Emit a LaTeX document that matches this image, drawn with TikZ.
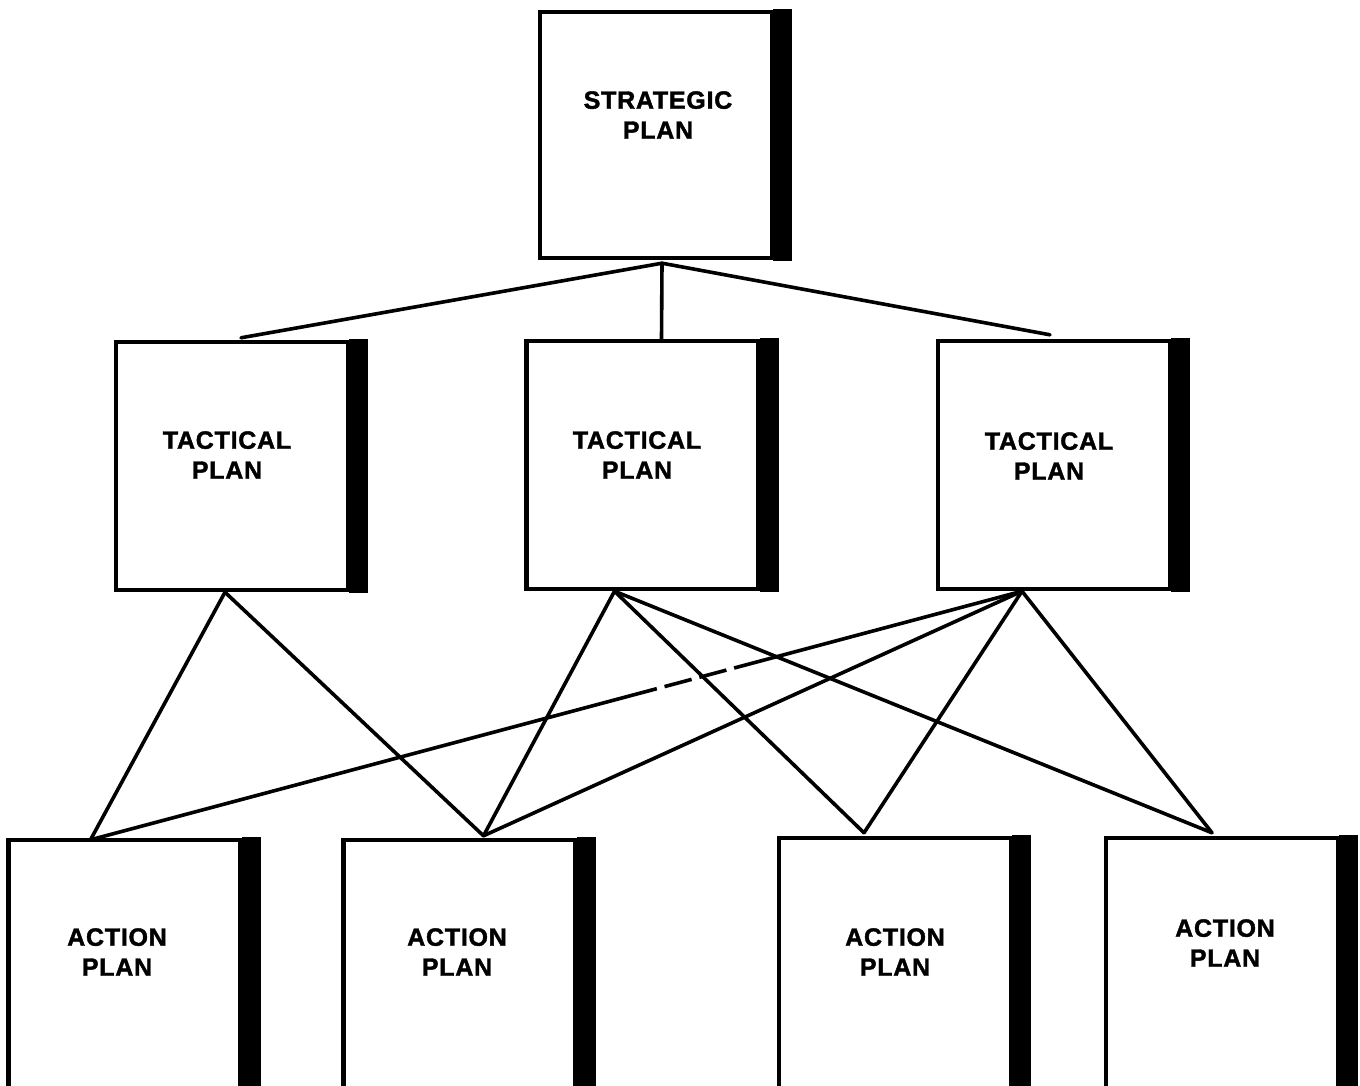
\documentclass[tikz,border=0pt]{standalone}
\usepackage{fontspec}
\newfontfamily\lblfont{Liberation Sans}[LetterSpace=3, BoldFeatures={FakeBold=1.6}]
\usetikzlibrary{calc}
\tikzset{
  planbox/.style={draw=black, line width=2.2pt, fill=white, rectangle, inner sep=0pt,
    minimum width=116pt},
  tallbox/.style={planbox, minimum height=124pt},
  actbox/.style={planbox, minimum height=125pt},
  lbl/.style={font=\lblfont\bfseries\fontsize{12.5}{15}\selectfont, align=center, inner sep=0pt},
  conn/.style={line width=1.8pt, line cap=round},
  shadow/.style={fill=black}
}
\begin{document}
\begin{tikzpicture}[x=0.5pt,y=-0.5pt]
\useasboundingbox (0,0) rectangle (1360,1086);
\clip (0,0) rectangle (1360,1086);
\fill[white] (0,0) rectangle (1360,1086);

% boxes
\node[tallbox, minimum height=123pt] (s) at (656,135) {};
\node[tallbox] (t1) at (232,466) {};
\node[tallbox] (t2) at (642.5,465) {};
\node[tallbox] (t3) at (1054,465) {};
\node[actbox] (a1) at (124.5,965) {};
\node[actbox] (a2) at (459.5,965) {};
\node[actbox] (a3) at (895,963) {};
\node[actbox] (a4) at (1222,963) {};

% shadows
\foreach \b in {s,t1,t2,t3,a1,a2,a3,a4}{
  \fill[shadow] ($(\b.north east)+(-1,-1)$) rectangle ($(\b.south east)+(18,1)$);
}

% labels
\node[lbl] (ls) at (658,115) {STRATEGIC\\PLAN};
\node[lbl] (lt1) at (227,455) {TACTICAL\\PLAN};
\node[lbl] (lt2) at (637,455) {TACTICAL\\PLAN};
\node[lbl] (lt3) at (1049,456) {TACTICAL\\PLAN};
\node[lbl] (la1) at (117,952) {ACTION\\PLAN};
\node[lbl] (la2) at (457,952) {ACTION\\PLAN};
\node[lbl] (la3) at (895,952) {ACTION\\PLAN};
\node[lbl] (la4) at (1225,943) {ACTION\\PLAN};

% connector end points
\coordinate (sb) at ($(s.south)+(6,3)$);
\coordinate (t1t) at ($(t1.north)+(9,-2)$);
\coordinate (t2t) at ($(t2.north)+(19,0)$);
\coordinate (t3t) at ($(t3.north)+(-4,-4)$);
\coordinate (t1b) at ($(t1.south)+(-7,0)$);
\coordinate (t2b) at ($(t2.south)+(-28,0)$);
\coordinate (t3b) at ($(t3.south)+(-32,0)$);
\coordinate (a1t) at ($(a1.north)+(-34,2)$);
\coordinate (a2t) at ($(a2.north)+(24,-2)$);
\coordinate (a3t) at ($(a3.north)+(-31,-3)$);
\coordinate (a4t) at ($(a4.north)+(-10,-3)$);

% connectors
\draw[conn] (sb) -- (t1t);
\draw[conn] (sb) -- (t2t);
\draw[conn] (sb) -- (t3t);

\draw[conn] (t1b) -- (a1t);
\draw[conn] (t1b) -- (a2t);
\draw[conn] (t2b) -- (a2t);
\draw[conn] (t2b) -- (a3t);
\draw[conn] (t2b) -- (a4t);
\draw[conn] (t3b) -- (a2t);
\draw[conn] (t3b) -- (a3t);
\draw[conn] (t3b) -- (a4t);

\coordinate (d1) at ($(t3b)!0.28!(a1t)$);
\coordinate (d2) at ($(t3b)!0.40!(a1t)$);
\draw[conn] (t3b) -- (d1);
\draw[conn, dash pattern=on 14pt off 4pt, line cap=butt] (d1) -- (d2);
\draw[conn] (d2) -- (a1t);
\end{tikzpicture}
\end{document}
